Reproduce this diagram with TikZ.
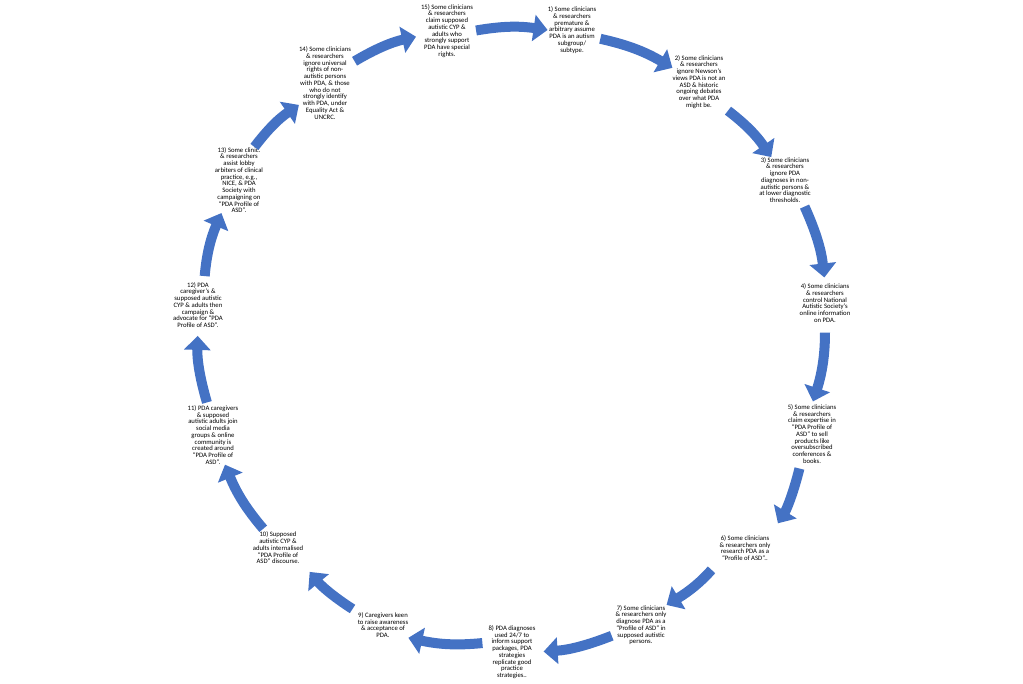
\documentclass[tikz,border=0pt]{standalone}
\usepackage{fontspec}
\setmainfont{Carlito}
\usetikzlibrary{arrows.meta}
\definecolor{arrowblue}{HTML}{4472C4}

\begin{document}
\begin{tikzpicture}[x=1pt,y=-1pt,
    stage/.style={align=center,inner sep=0pt,font=\fontsize{6.7}{6.75}\selectfont},
    flow/.style={draw=arrowblue,line width=10pt,-{Triangle[width=26pt,length=14pt]},bend left=9}]
    \useasboundingbox (0,0) rectangle (1023,684);

    % 上の段階
    \node[stage] (s15) at (447,31) {15) Some clinicians\\ \& researchers\\ claim supposed\\ autistic CYP \&\\ adults who\\ strongly support\\ PDA have special\\ rights.};
    \node[stage] (s1) at (572,30) {1) Some clinicians\\ \& researchers\\ premature \&\\ arbitrary assume\\ PDA is an autism\\ subgroup/\\ subtype.};
    \node[stage] (s2) at (699,82) {2) Some clinicians\\ \& researchers\\ ignore Newson’s\\ views PDA is not an\\ ASD \& historic\\ ongoing debates\\ over what PDA\\ might be.};

    % 右の段階
    \node[stage] (s3) at (785,180) {3) Some clinicians\\ \& researchers\\ ignore PDA\\ diagnoses in non-\\ autistic persons \&\\ at lower diagnostic\\ thresholds.};
    \node[stage] (s4) at (825,303) {4) Some clinicians\\ \& researchers\\ control National\\ Autistic Society’s\\ online information\\ on PDA.};
    \node[stage] (s5) at (812,434) {5) Some clinicians\\ \& researchers\\ claim expertise in\\ “PDA Profile of\\ ASD” to sell\\ products like\\ oversubscribed\\ conferences \&\\ books.};
    \node[stage] (s6) at (745,548) {6) Some clinicians\\ \& researchers only\\ research PDA as a\\ “Profile of ASD”..};

    % 下の段階
    \node[stage] (s7) at (641,625) {7) Some clinicians\\ \& researchers only\\ diagnose PDA as a\\ “Profile of ASD” in\\ supposed autistic\\ persons.};
    \node[stage] (s8) at (512,652) {8) PDA diagnoses\\ used 24/7 to\\ inform support\\ packages, PDA\\ strategies\\ replicate good\\ practice\\ strategies..};
    \node[stage] (s9) at (383,625) {9) Caregivers keen\\ to raise awareness\\ \& acceptance of\\ PDA.};
    \node[stage] (s10) at (278,548) {10) Supposed\\ autistic CYP \&\\ adults internalised\\ “PDA Profile of\\ ASD” discourse.};

    % 左の段階
    \node[stage] (s11) at (213,435) {11) PDA caregivers\\ \& supposed\\ autistic adults join\\ social media\\ groups \& online\\ community is\\ created around\\ “PDA Profile of\\ ASD”.};
    \node[stage] (s12) at (198,305) {12) PDA\\ caregiver’s \&\\ supposed autistic\\ CYP \& adults then\\ campaign \&\\ advocate for “PDA\\ Profile of ASD”.};
    \node[stage] (s13) at (239,180) {13) Some clinic.\\ \& researchers\\ assist lobby\\ arbiters of clinical\\ practice, e.g.,\\ NICE, \& PDA\\ Society with\\ campaigning on\\ “PDA Profile of\\ ASD”.};
    \node[stage] (s14) at (325,83) {14) Some clinicians\\ \& researchers\\ ignore universal\\ rights of non-\\ autistic persons\\ with PDA, \& those\\ who do not\\ strongly identify\\ with PDA, under\\ Equality Act \&\\ UNCRC.};

    % 矢印
    \draw[flow,shorten <=3pt] (s15.east) to (s1.west);
    \draw[flow,shorten <=4pt] (s1.-18) to (s2.152);
    \draw[flow,shorten <=3pt] (s2.south east) to (s3.121);
    \draw[flow,shorten <=4pt,shorten >=6pt] (s3.-52) to (s4.north);
    \draw[flow,shorten <=10pt,shorten >=3pt] (s4.south) to (s5.north);
    \draw[flow,shorten <=5pt,shorten >=14pt] (s5.-111) to (s6.north east);
    \draw[flow,shorten <=12pt] (s6.south west) to (s7.north east);
    \draw[flow,shorten <=4pt,shorten >=8pt] (s7.200) to (s8.east);
    \draw[flow,shorten <=6pt] (s8.158) to (s9.south east);
    \draw[flow,shorten <=6pt,shorten >=10pt] (s9.north west) to (s10.south east);
    \draw[flow,shorten <=4pt] (s10.127) to (s11.-68);
    \draw[flow,shorten <=3pt,shorten >=8pt] (s11.100) to (s12.south);
    \draw[flow,shorten <=6pt] (s12.75) to (s13.-118);
    \draw[flow] (s13.65) to (s14.220);
    \draw[flow,shorten <=4pt,shorten >=5pt] (s14.37) to (s15.190);
\end{tikzpicture}
\end{document}
